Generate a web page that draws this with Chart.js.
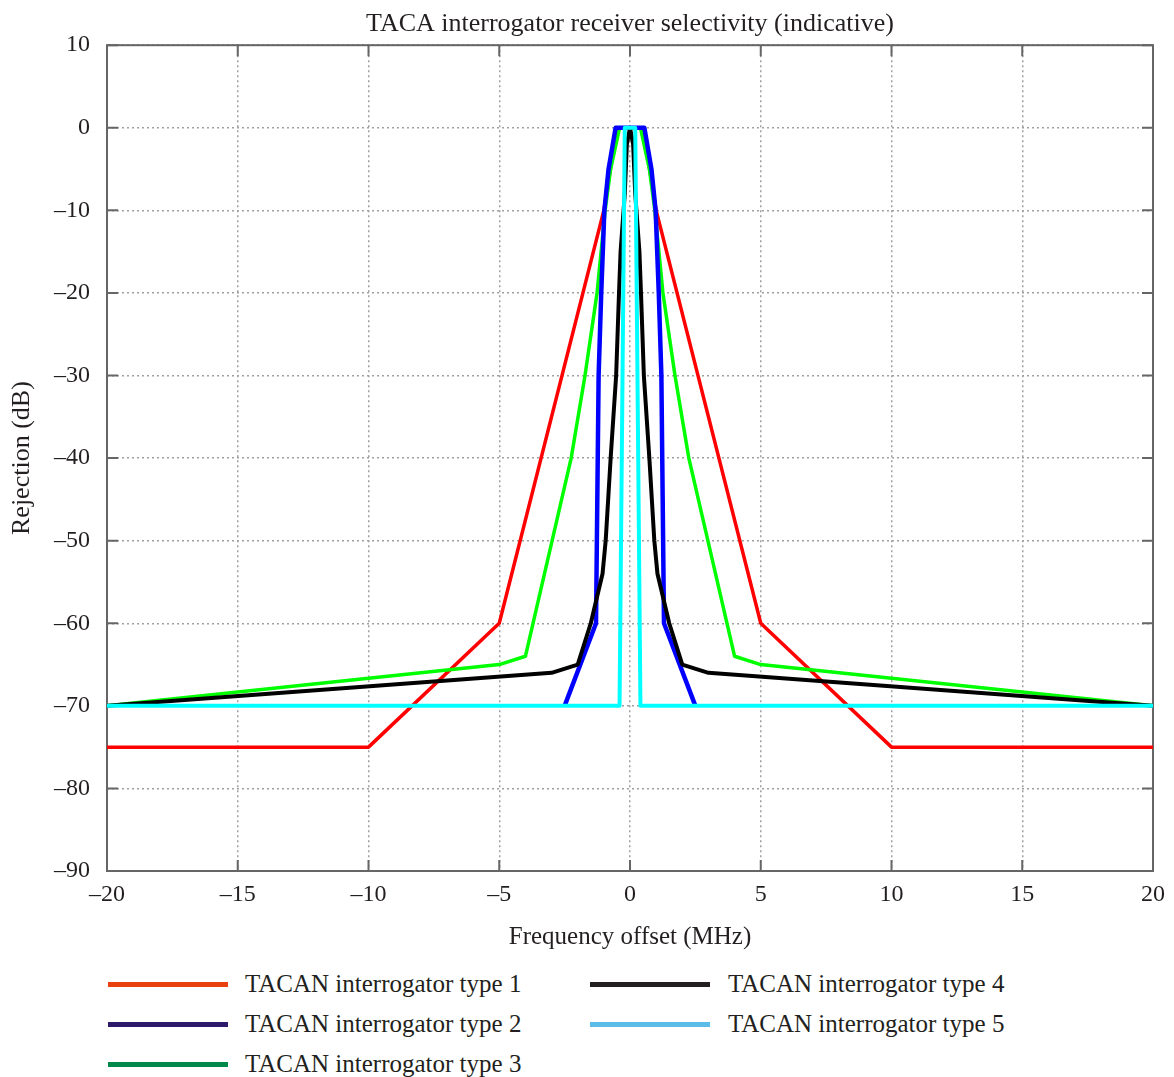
<!DOCTYPE html>
<html>
<head>
<meta charset="utf-8">
<script src="https://cdn.jsdelivr.net/npm/chart.js@4.4.0/dist/chart.umd.min.js"></script>
<style>
  html, body { margin: 0; padding: 0; background: #fff; }
  #wrap { position: relative; width: 1174px; height: 1077px; }
  canvas { position: absolute; left: 0; top: 0; }
  .lg { position: absolute; height: 40px; line-height: 40px; font-family: "Liberation Serif", serif; font-size: 25px; color: #231f20; white-space: nowrap; }
  .sw { position: absolute; width: 120px; height: 5px; }
</style>
</head>
<body>
<div id="wrap">
  <canvas id="c" width="1174" height="960"></canvas>
  <div id="legend"></div>
</div>
<script>
// ---- Data ----
const chartTitle = 'TACA interrogator receiver selectivity (indicative)';
const xTitle = 'Frequency offset (MHz)';
const yTitle = 'Rejection (dB)';
const seriesNames = ['TACAN interrogator type 1', 'TACAN interrogator type 2', 'TACAN interrogator type 3', 'TACAN interrogator type 4', 'TACAN interrogator type 5'];

const type1X = [-20, -10, -5, -1, -0.5, 0.5, 1, 5, 10, 20];
const type1Y = [-75, -75, -60, -10, 0, 0, -10, -60, -75, -75];

const type2X = [-2.5, -1.3, -1.25, -1.2, -1.1, -0.98, -0.82, -0.55, 0.55, 0.82, 0.98, 1.1, 1.2, 1.25, 1.3, 2.5];
const type2Y = [-70, -60, -45, -30, -20, -10, -5, 0, 0, -5, -10, -20, -30, -45, -60, -70];

const type3X = [-20, -5, -4, -2.25, -1.72, -1.26, -0.95, -0.74, -0.4, 0.4, 0.74, 0.95, 1.26, 1.72, 2.25, 4, 5, 20];
const type3Y = [-70, -65, -64, -40, -30, -20, -10, -5, 0, 0, -5, -10, -20, -30, -40, -64, -65, -70];

const type4X = [-20, -3, -2, -1.5, -1.05, -0.93, -0.74, -0.53, -0.42, -0.36, -0.2, -0.12, 0, 0.12, 0.2, 0.36, 0.42, 0.53, 0.74, 0.93, 1.05, 1.5, 2, 3, 20];
const type4Y = [-70, -66, -65, -60, -54, -50, -40, -30, -20, -15, -8, -2, 0, -2, -8, -15, -20, -30, -40, -50, -54, -60, -65, -66, -70];

const type5X = [-20, -0.4, -0.2, 0.2, 0.4, 20];
const type5Y = [-70, -70, 0, 0, -70, -70];

const xTicks = [-20, -15, -10, -5, 0, 5, 10, 15, 20];
const yTicks = [10, 0, -10, -20, -30, -40, -50, -60, -70, -80, -90];

// ---- Styles ----
const lineColors = ['#ff0000', '#0000ff', '#00ff00', '#000000', '#00ffff'];
const legendColors = ['#e8410f', '#2d1a6b', '#00894a', '#231f20', '#5bbce8'];
const lineWidths = [3.5, 4.5, 3.5, 4, 4];
const drawOrder = [4, 2, 3, 1, 0]; // lower = on top

const xsAll = [type1X, type2X, type3X, type4X, type5X];
const ysAll = [type1Y, type2Y, type3Y, type4Y, type5Y];

const datasets = xsAll.map((xs, i) => ({
  label: seriesNames[i],
  data: xs.map((x, k) => ({ x: x, y: ysAll[i][k] })),
  borderColor: lineColors[i],
  backgroundColor: lineColors[i],
  borderWidth: lineWidths[i],
  borderJoinStyle: 'round',
  pointRadius: 0,
  tension: 0,
  fill: false,
  order: drawOrder[i]
}));

const FONT = '"Liberation Serif", "Times New Roman", serif';
const TXT = '#231f20';
const dash = v => String(v).replace('-', '\u2013');

const framePlugin = {
  id: 'frame',
  beforeDatasetsDraw(chart) {
    const { ctx, chartArea } = chart;
    const { left, right, top, bottom } = chartArea;
    const xs = chart.scales.x, ys = chart.scales.y;
    ctx.save();
    ctx.strokeStyle = '#666666';
    ctx.lineWidth = 2;
    ctx.setLineDash([]);
    ctx.strokeRect(left, top, right - left, bottom - top);
    ctx.beginPath();
    xTicks.forEach(v => {
      const px = xs.getPixelForValue(v);
      ctx.moveTo(px, bottom); ctx.lineTo(px, bottom - 11);
      ctx.moveTo(px, top); ctx.lineTo(px, top + 11);
    });
    yTicks.forEach(v => {
      const py = ys.getPixelForValue(v);
      ctx.moveTo(left, py); ctx.lineTo(left + 11, py);
      ctx.moveTo(right, py); ctx.lineTo(right - 11, py);
    });
    ctx.stroke();
    ctx.restore();
  }
};

new Chart(document.getElementById('c'), {
  type: 'line',
  data: { datasets },
  options: {
    responsive: false,
    devicePixelRatio: 1,
    animation: false,
    layout: { padding: { left: 0, right: 19, top: 0, bottom: 0 } },
    plugins: {
      legend: { display: false },
      tooltip: { enabled: false },
      title: {
        display: true,
        fullSize: false,
        text: chartTitle,
        color: TXT,
        font: { family: FONT, size: 26, weight: 'normal' },
        padding: { top: 9, bottom: 5 }
      }
    },
    scales: {
      x: {
        type: 'linear',
        min: -20, max: 20,
        afterFit: s => { s.height = 89; },
        afterBuildTicks: s => { s.ticks = xTicks.map(v => ({ value: v })); },
        ticks: { callback: dash, color: TXT, font: { family: FONT, size: 24 }, padding: 9, maxRotation: 0 },
        grid: { color: '#a0a0a0', lineWidth: 1.5, drawTicks: false },
        border: { display: false, dash: [2, 3] },
        title: { display: true, text: xTitle, color: TXT, font: { family: FONT, size: 25 }, padding: { top: 0, bottom: 8 } }
      },
      y: {
        type: 'linear',
        min: -90, max: 10,
        afterFit: s => { s.width = 107; },
        afterBuildTicks: s => { s.ticks = yTicks.map(v => ({ value: v })); },
        ticks: { callback: dash, color: TXT, font: { family: FONT, size: 24 }, padding: 17 },
        grid: { color: '#a0a0a0', lineWidth: 1.5, drawTicks: false },
        border: { display: false, dash: [2, 3] },
        title: { display: true, text: yTitle, color: TXT, font: { family: FONT, size: 26 }, padding: { top: 7, bottom: 0 } }
      }
    }
  },
  plugins: [framePlugin]
});

// ---- HTML legend (two columns, column-major) ----
const legendPos = [
  { sx: 108, tx: 245, cy: 984 },
  { sx: 108, tx: 245, cy: 1024 },
  { sx: 108, tx: 245, cy: 1064 },
  { sx: 590, tx: 728, cy: 984 },
  { sx: 590, tx: 728, cy: 1024 }
];
const lg = document.getElementById('legend');
seriesNames.forEach((name, i) => {
  const p = legendPos[i];
  const sw = document.createElement('div');
  sw.className = 'sw';
  sw.style.left = p.sx + 'px';
  sw.style.top = (p.cy - 2) + 'px';
  sw.style.background = legendColors[i];
  lg.appendChild(sw);
  const t = document.createElement('div');
  t.className = 'lg';
  t.style.left = p.tx + 'px';
  t.style.top = (p.cy - 20) + 'px';
  t.textContent = name;
  lg.appendChild(t);
});
</script>
</body>
</html>
